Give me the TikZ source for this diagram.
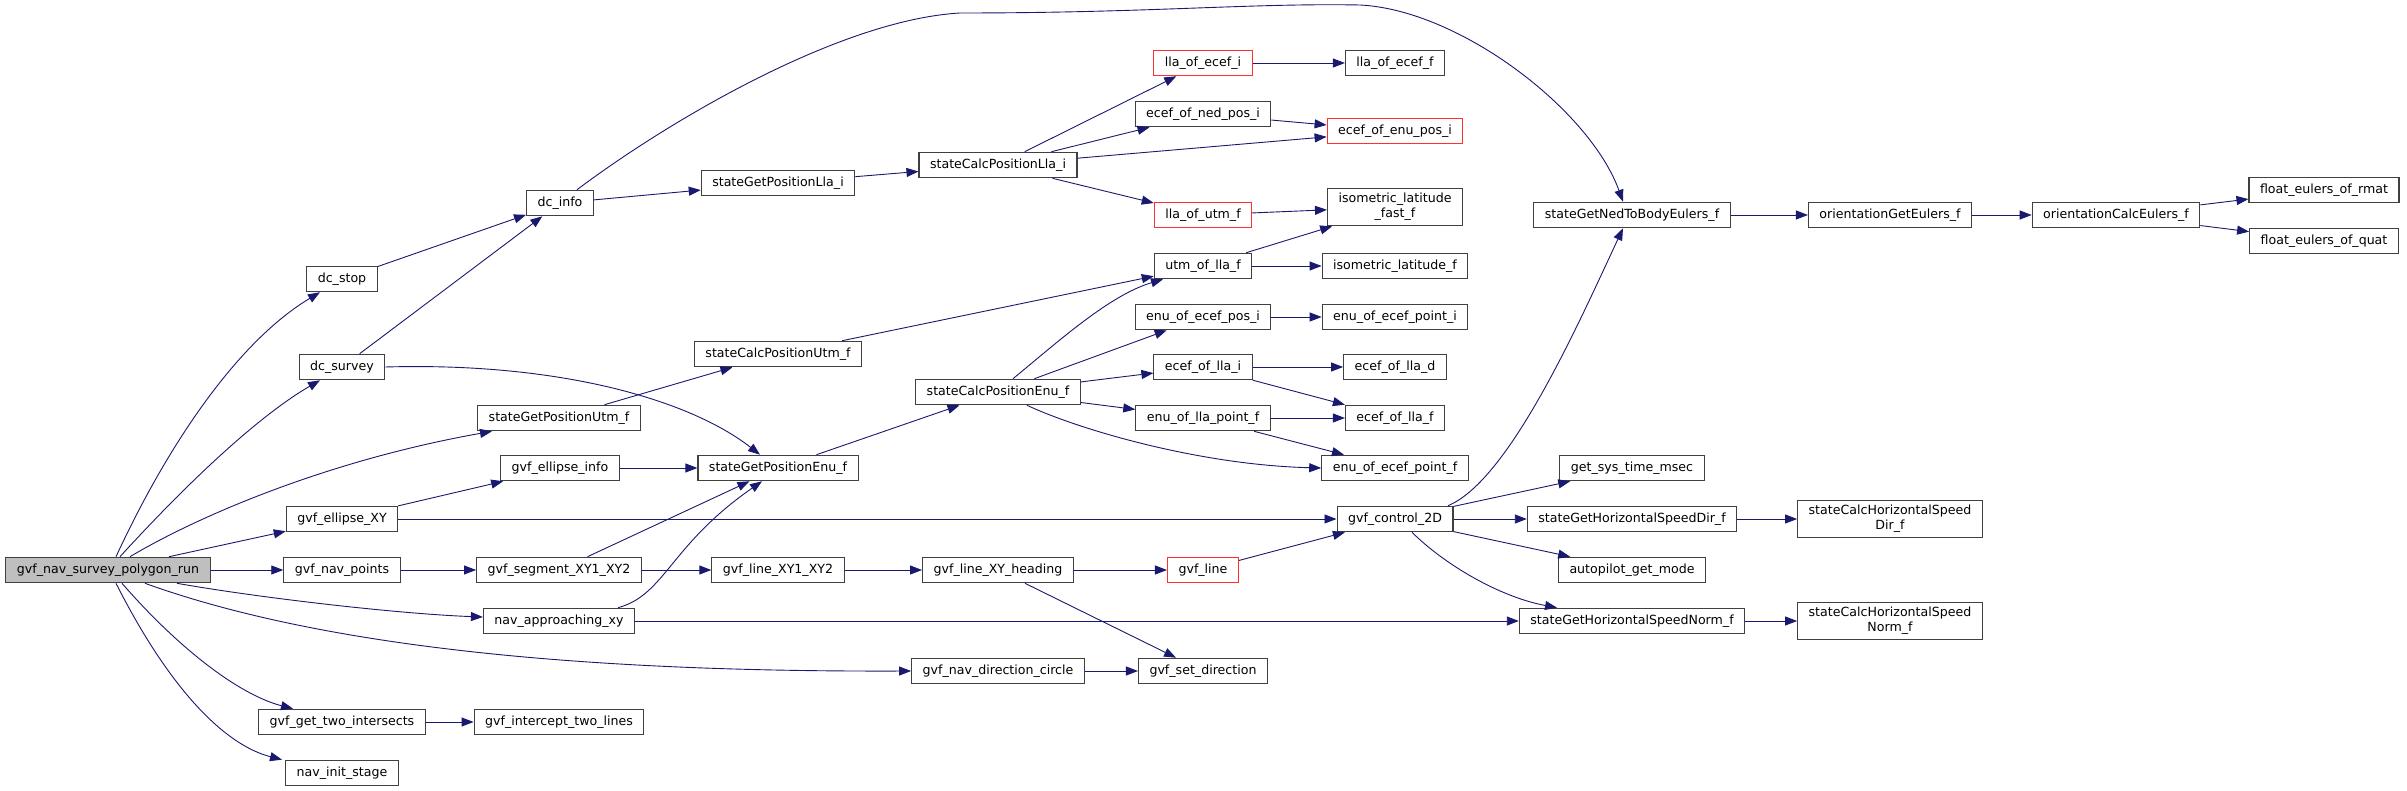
\documentclass[tikz,border=0pt]{standalone}
\usepackage{fontspec}
\setmainfont{DejaVu Sans}
\usepackage{xcolor}
\usepackage{tikz}
\usetikzlibrary{arrows.meta}
\definecolor{edgec}{HTML}{191970}
\definecolor{boxc}{HTML}{404040}
\definecolor{trunc}{HTML}{FF3030}
\definecolor{rootbg}{HTML}{BFBFBF}
\tikzset{
  fn/.style={draw=boxc,line width=1.1pt,fill=white,align=center,inner xsep=11pt,inner ysep=5pt,minimum height=25.5pt,font=\fontsize{12.6pt}{15pt}\selectfont},
  cut/.style={fn,draw=trunc},
  root/.style={fn,fill=rootbg},
  ar/.style={-{Triangle[length=12pt,width=9pt]},line width=0.9pt,edgec}
}
\begin{document}
\begin{tikzpicture}[x=1pt,y=-1pt]
\fill[white] (0,0) rectangle (2407,791);
\useasboundingbox (0,0) rectangle (2407,791);
% column 0-2
\node[root] (run) at (108,570) {gvf\_nav\_survey\_polygon\_run};
\node[fn] (dcstop) at (342,279) {dc\_stop};
\node[fn] (dcsurvey) at (342,367) {dc\_survey};
\node[fn] (ellxy) at (342,519) {gvf\_ellipse\_XY};
\node[fn] (navpts) at (342,570) {gvf\_nav\_points};
\node[fn] (twoint) at (342,722) {gvf\_get\_two\_intersects};
\node[fn] (navinit) at (342,773) {nav\_init\_stage};
\node[fn] (dcinfo) at (560,203) {dc\_info};
\node[fn] (getutm) at (559,418) {stateGetPositionUtm\_f};
\node[fn] (ellinfo) at (560,468) {gvf\_ellipse\_info};
\node[fn] (segxy) at (559,570) {gvf\_segment\_XY1\_XY2};
\node[fn] (navappr) at (559,621) {nav\_approaching\_xy};
\node[fn] (intercept) at (559,722) {gvf\_intercept\_two\_lines};
% column 3-4
\node[fn] (getlla) at (778,183) {stateGetPositionLla\_i};
\node[fn] (calcutm) at (778,354) {stateCalcPositionUtm\_f};
\node[fn] (getenu) at (778,468) {stateGetPositionEnu\_f};
\node[fn] (linexy) at (778,570) {gvf\_line\_XY1\_XY2};
\node[fn] (calclla) at (998,165) {stateCalcPositionLla\_i};
\node[fn] (calcenu) at (998,392) {stateCalcPositionEnu\_f};
\node[fn] (lineh) at (998,570) {gvf\_line\_XY\_heading};
\node[fn] (dircircle) at (998,671) {gvf\_nav\_direction\_circle};
% column 5-6
\node[cut] (llaecefi) at (1203,63) {lla\_of\_ecef\_i};
\node[fn] (ecefned) at (1203,114) {ecef\_of\_ned\_pos\_i};
\node[cut] (llautm) at (1203,215) {lla\_of\_utm\_f};
\node[fn] (utmlla) at (1203,266) {utm\_of\_lla\_f};
\node[fn] (enuecefpos) at (1203,317) {enu\_of\_ecef\_pos\_i};
\node[fn] (ecefllai) at (1203,367) {ecef\_of\_lla\_i};
\node[fn] (enullapt) at (1203,418) {enu\_of\_lla\_point\_f};
\node[cut] (gvfline) at (1203,570) {gvf\_line};
\node[fn] (setdir) at (1203,671) {gvf\_set\_direction};
\node[fn] (llaeceff) at (1395,63) {lla\_of\_ecef\_f};
\node[cut] (ecefenu) at (1395,131) {ecef\_of\_enu\_pos\_i};
\node[fn] (isofast) at (1395,207) {isometric\_latitude\\\_fast\_f};
\node[fn] (iso) at (1395,266) {isometric\_latitude\_f};
\node[fn] (enuecefpti) at (1395,317) {enu\_of\_ecef\_point\_i};
\node[fn] (ecefllad) at (1395,367) {ecef\_of\_lla\_d};
\node[fn] (ecefllaf) at (1395,418) {ecef\_of\_lla\_f};
\node[fn] (enuecefptf) at (1395,468) {enu\_of\_ecef\_point\_f};
\node[fn] (control) at (1395,519) {gvf\_control\_2D};
% column 7-10
\node[fn] (nedeul) at (1632,215) {stateGetNedToBodyEulers\_f};
\node[fn] (systime) at (1632,468) {get\_sys\_time\_msec};
\node[fn] (hsdir) at (1632,519) {stateGetHorizontalSpeedDir\_f};
\node[fn] (apmode) at (1632,570) {autopilot\_get\_mode};
\node[fn] (hsnorm) at (1632,621) {stateGetHorizontalSpeedNorm\_f};
\node[fn] (geteul) at (1890,215) {orientationGetEulers\_f};
\node[fn] (calchsdir) at (1890,519) {stateCalcHorizontalSpeed\\Dir\_f};
\node[fn] (calchsnorm) at (1890,621) {stateCalcHorizontalSpeed\\Norm\_f};
\node[fn] (calceul) at (2116,215) {orientationCalcEulers\_f};
\node[fn] (rmat) at (2324,190) {float\_eulers\_of\_rmat};
\node[fn] (quat) at (2324,241) {float\_eulers\_of\_quat};
% calls from the root
\draw[ar] ([xshift=8pt]run.north) .. controls (170,440) and (240,340) .. ([xshift=-22pt]dcstop.south);
\draw[ar] ([xshift=12pt]run.north) .. controls (190,480) and (260,415) .. ([xshift=-22pt]dcsurvey.south);
\draw[ar] ([xshift=22pt]run.north) .. controls (200,515) and (330,460) .. ([xshift=-67pt]getutm.south);
\draw[ar] (run) -- (ellxy);
\draw[ar] (run) -- (navpts);
\draw[ar] ([xshift=69pt]run.south) .. controls (260,598) and (400,614) .. ([yshift=4pt]navappr.west);
\draw[ar] ([xshift=37pt]run.south) .. controls (330,650) and (600,672) .. (dircircle.west);
\draw[ar] ([xshift=14pt]run.south) .. controls (180,650) and (240,695) .. ([xshift=-49pt]twoint.north);
\draw[ar] ([xshift=8pt]run.south) .. controls (170,690) and (225,745) .. ([xshift=-60pt]navinit.north);
% second level
\draw[ar] (dcstop) -- (dcinfo);
\draw[ar] (dcsurvey) -- (dcinfo);
\draw[ar] (dcsurvey.east) .. controls (560,362) and (690,400) .. ([xshift=-18pt]getenu.north);
\draw[ar] (dcinfo) -- (getlla);
\draw[ar] ([xshift=17pt]dcinfo.north) .. controls (670,120) and (840,20) .. (960,13)
  .. controls (1150,13) and (1250,3) .. (1360,5)
  .. controls (1460,10) and (1590,110) .. ([xshift=-9pt]nedeul.north);
\draw[ar] (getutm) -- (calcutm);
\draw[ar] (ellxy) -- (ellinfo);
\draw[ar] (ellxy) -- (control);
\draw[ar] (ellinfo) -- (getenu);
\draw[ar] (navpts) -- (segxy);
\draw[ar] (segxy) -- (getenu);
\draw[ar] (segxy) -- (linexy);
\draw[ar] ([xshift=59pt]navappr.north) .. controls (665,595) and (670,545) .. ([xshift=-16pt]getenu.south);
\draw[ar] (navappr) -- (hsnorm);
\draw[ar] (twoint) -- (intercept);
% position
\draw[ar] (getlla) -- (calclla);
\draw[ar] (calclla) -- (llaecefi);
\draw[ar] (calclla) -- (ecefned);
\draw[ar] (calclla) -- (ecefenu);
\draw[ar] (calclla) -- (llautm);
\draw[ar] (ecefned) -- (ecefenu);
\draw[ar] (llaecefi) -- (llaeceff);
\draw[ar] (llautm) -- (isofast);
\draw[ar] (utmlla) -- (isofast);
\draw[ar] (utmlla) -- (iso);
\draw[ar] (calcutm) -- (utmlla);
\draw[ar] (getenu) -- (calcenu);
\draw[ar] ([xshift=15pt]calcenu.north) .. controls (1060,340) and (1110,295) .. ([xshift=-40pt]utmlla.south);
\draw[ar] (calcenu) -- (enuecefpos);
\draw[ar] (calcenu) -- (ecefllai);
\draw[ar] (calcenu) -- (enullapt);
\draw[ar] ([xshift=29pt]calcenu.south) .. controls (1080,430) and (1200,465) .. (enuecefptf.west);
\draw[ar] (enuecefpos) -- (enuecefpti);
\draw[ar] (ecefllai) -- (ecefllad);
\draw[ar] (ecefllai) -- (ecefllaf);
\draw[ar] (enullapt) -- (ecefllaf);
\draw[ar] (enullapt) -- (enuecefptf);
% guidance
\draw[ar] (linexy) -- (lineh);
\draw[ar] (lineh) -- (gvfline);
\draw[ar] (lineh) -- (setdir);
\draw[ar] (dircircle) -- (setdir);
\draw[ar] (gvfline) -- (control);
\draw[ar] ([xshift=53pt]control.north) .. controls (1510,480) and (1580,320) .. ([xshift=-9pt]nedeul.south);
\draw[ar] (control) -- (systime);
\draw[ar] (control) -- (hsdir);
\draw[ar] (control) -- (apmode);
\draw[ar] ([xshift=17pt]control.south) .. controls (1445,565) and (1500,597) .. ([xshift=-75pt]hsnorm.north);
\draw[ar] (nedeul) -- (geteul);
\draw[ar] (geteul) -- (calceul);
\draw[ar] (calceul) -- (rmat);
\draw[ar] (calceul) -- (quat);
\draw[ar] (hsdir) -- (calchsdir);
\draw[ar] (hsnorm) -- (calchsnorm);
\end{tikzpicture}
\end{document}
